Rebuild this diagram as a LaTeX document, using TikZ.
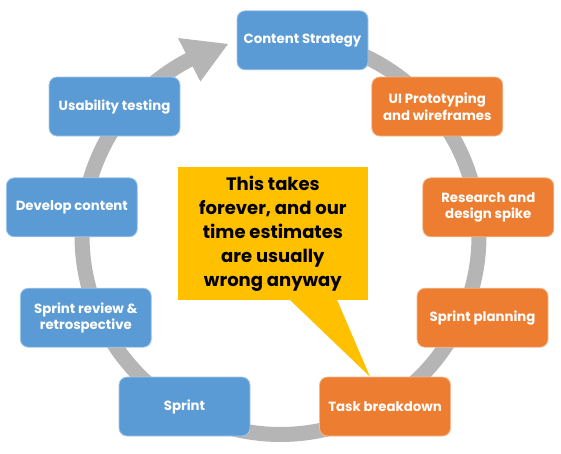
\documentclass[tikz,border=0pt]{standalone}
\usepackage{fontspec}
\setmainfont{Poppins}
\definecolor{stepblue}{HTML}{5B9BD5}
\definecolor{steporange}{HTML}{ED7D31}
\definecolor{cyclegray}{HTML}{B5B5B5}
\definecolor{noteyellow}{HTML}{FFC000}
\tikzset{
  stage/.style={rounded corners=8pt, minimum width=131pt, minimum height=59pt,
    align=center, text=white, inner sep=0pt, line width=0.8pt,
    font=\bfseries\fontsize{13.3}{16.5}\selectfont},
  bluestage/.style={stage, fill=stepblue, draw=stepblue!55!white},
  orangestage/.style={stage, fill=steporange, draw=steporange!55!white},
  notebox/.style={fill=noteyellow, minimum width=189.7pt, minimum height=133.3pt,
    inner sep=0pt, align=center, text=black,
    font=\bfseries\fontsize{18}{24}\selectfont},
  cycle ring/.style={cyclegray, line width=15pt}
}
\begin{document}
\begin{tikzpicture}[x=1pt,y=-1pt]
\useasboundingbox (0,0) rectangle (561,453);

% the grey cycle ring and its arrow head
\draw[cycle ring] plot[domain=440:116.5, samples=300]
  ({280.5+198.5*cos(\x)},{236-198.5*sin(\x)});
\fill[cyclegray] (177.9,38) -- (228,44) -- (200.4,81.5) -- cycle;

% stages
\node[bluestage]   (cs)  at (302.5,40.3)  {Content Strategy};
\node[orangestage] (ui)  at (437.3,106.5) {UI Prototyping\\and wireframes};
\node[orangestage] (rd)  at (488.3,207.3) {Research and\\design spike};
\node[orangestage] (sp)  at (482.5,317.7) {Sprint planning};
\node[orangestage] (tb)  at (385,406.5)   {Task breakdown};
\node[bluestage]   (spr) at (184.5,406.5) {Sprint};
\node[bluestage]   (srr) at (85.8,317.7)  {Sprint review \&\\retrospective};
\node[bluestage]   (dc)  at (71.8,207.3)  {Develop content};
\node[bluestage]   (ut)  at (114.5,106.5) {Usability testing};

% speech bubble
\node[notebox] (note) at (272.9,233.3)
  {This takes\\forever, and our\\time estimates\\are usually\\wrong anyway};
\coordinate (tip) at (370,376.7);
\fill[noteyellow] (289,299) -- (tip) -- (336.7,299) -- cycle;
\end{tikzpicture}
\end{document}
